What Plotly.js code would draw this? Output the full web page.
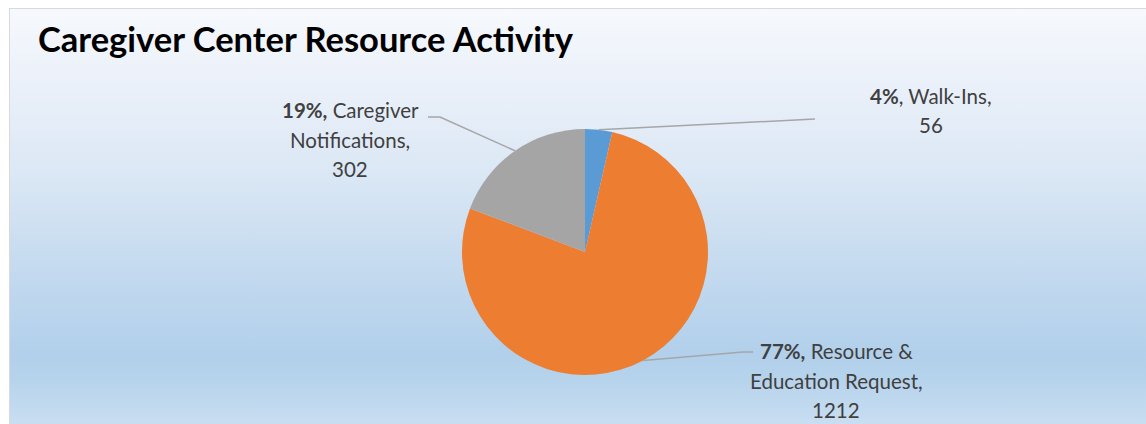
<!DOCTYPE html>
<html>
<head>
<meta charset="utf-8">
<script src="https://cdn.plot.ly/plotly-3.0.1.min.js"></script>
<style>
  html, body { margin: 0; padding: 0; background: #ffffff; }
  #wrap { position: relative; width: 1146px; height: 424px; overflow: hidden; background: #ffffff; }
  #bg { position: absolute; left: 9px; top: 8px; right: 0; bottom: 0;
        border-left: 1.5px solid #D9D9D9; border-top: 1.5px solid #D9D9D9;
        background: linear-gradient(to bottom, #F6F9FD 0px, #EDF2FA 60px, #DCE8F5 160px, #C4DAEF 260px, #B2D0EB 345px, #B6D3EC 370px, #C9DEF1 416px); }
  #chart { position: absolute; left: 0; top: 0; width: 1146px; height: 424px; }
</style>
</head>
<body>
<div id="wrap">
  <div id="bg"></div>
  <div id="chart"></div>
</div>
<script>
// ---- data ----
const categories = ["Walk-Ins", "Resource & Education Request", "Caregiver Notifications"];
const values = [56, 1212, 302];
const labelLines = [["Walk-Ins"], ["Resource &", "Education Request"], ["Caregiver", "Notifications"]];
const colors = ["#5B9BD5", "#ED7D31", "#A5A5A5"];
const titleText = "Caregiver Center Resource Activity";

// ---- layout geometry (pixels) ----
const W = 1146, H = 424;
const cx = 585, cy = 252, R = 123;
const px = x => x / W;
const py = y => 1 - y / H;

const total = values.reduce((a, b) => a + b, 0);
const pcts = values.map(v => Math.round(v / total * 100));

// label placement (centre of first line) and leader-line elbows, in pixels
const labelPos = [[931, 96], [836, 351], [350, 110]];
const leaderElbows = [
  [[815, 119]],
  [[743, 352], [753, 352]],
  [[440, 117], [428, 117]]
];
const lineH = 29.5;
const labelFont = { family: "Lato, 'Open Sans', sans-serif", size: 20.5, color: "#404040" };

const annotations = [];
const shapes = [];

// title
annotations.push({
  xref: "paper", yref: "paper", x: px(36), y: py(39),
  xanchor: "left", yanchor: "middle", showarrow: false,
  text: "<b>" + titleText + "</b>",
  font: { family: "Lato, 'Open Sans', sans-serif", size: 34.5, color: "#000000" }
});

let cum = 0;
values.forEach((v, i) => {
  const mid = (cum + v / 2) / total * 2 * Math.PI; // clockwise from 12 o'clock
  cum += v;
  const ex = cx + R * Math.sin(mid);
  const ey = cy - R * Math.cos(mid);
  // leader line
  let path = "M " + px(ex) + " " + py(ey);
  leaderElbows[i].forEach(p => { path += " L " + px(p[0]) + " " + py(p[1]); });
  shapes.push({ type: "path", xref: "paper", yref: "paper", path: path,
                line: { color: "#A6A6A6", width: 1.5 } });
  // label text lines
  const parts = labelLines[i].slice();
  const lines = [];
  parts.forEach((p, k) => {
    let t = p;
    if (k === parts.length - 1) t += ",";
    if (k === 0) t = "<b>" + pcts[i] + "%" + (i === 0 ? "</b>," : ",</b>") + " " + t;
    lines.push(t);
  });
  lines.push(String(v));
  lines.forEach((t, k) => {
    annotations.push({
      xref: "paper", yref: "paper",
      x: px(labelPos[i][0]), y: py(labelPos[i][1] + k * lineH),
      xanchor: "center", yanchor: "middle", showarrow: false,
      text: t, font: labelFont
    });
  });
});

const trace = {
  type: "pie",
  labels: categories,
  values: values,
  sort: false,
  direction: "clockwise",
  rotation: 0,
  textinfo: "none",
  hoverinfo: "label+value+percent",
  marker: { colors: colors, line: { width: 0 } },
  domain: { x: [px(cx - R), px(cx + R)], y: [py(cy + R), py(cy - R)] },
  showlegend: false
};

const layout = {
  width: W, height: H,
  margin: { l: 0, r: 0, t: 0, b: 0 },
  paper_bgcolor: "rgba(0,0,0,0)",
  plot_bgcolor: "rgba(0,0,0,0)",
  showlegend: false,
  annotations: annotations,
  shapes: shapes
};

Plotly.newPlot("chart", [trace], layout, { displayModeBar: false, staticPlot: true });
</script>
</body>
</html>
